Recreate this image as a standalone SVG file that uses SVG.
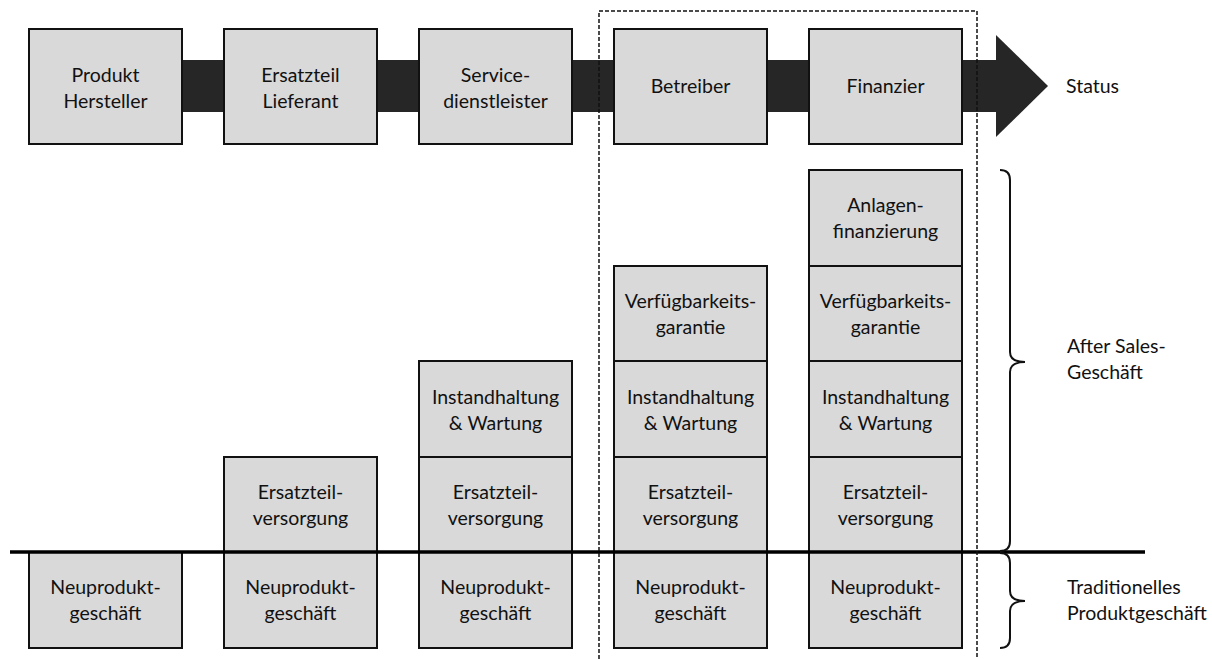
<svg xmlns="http://www.w3.org/2000/svg" width="1212" height="659" viewBox="0 0 1212 659">
<style>
.box{fill:#d9d9d9;stroke:#111;stroke-width:2}
text{font-family:Lato,"Liberation Sans",sans-serif;font-size:19.5px;fill:#111}
.c{text-anchor:middle}
.brace{fill:none;stroke:#111;stroke-width:2}
</style>
<rect width="1212" height="659" fill="#fff"/>
<g id="arrow">
<rect x="180" y="60" width="818" height="52" fill="#262626"/>
<polygon points="996,35 1048,86 996,137" fill="#262626"/>
</g>
<g id="status-label"><text x="1066" y="93">Status</text></g>
<g id="hersteller"><rect class="box" x="29" y="29" width="153" height="115"/><text class="c" x="105.5" y="82">Produkt</text><text class="c" x="105.5" y="108">Hersteller</text></g>
<g id="lieferant"><rect class="box" x="224" y="29" width="153" height="115"/><text class="c" x="300.5" y="82">Ersatzteil</text><text class="c" x="300.5" y="108">Lieferant</text></g>
<g id="dienstleister"><rect class="box" x="419" y="29" width="153" height="115"/><text class="c" x="495.5" y="82">Service-</text><text class="c" x="495.5" y="108">dienstleister</text></g>
<g id="betreiber"><rect class="box" x="614" y="29" width="153" height="115"/><text class="c" x="690.5" y="93">Betreiber</text></g>
<g id="finanzier"><rect class="box" x="809" y="29" width="153" height="115"/><text class="c" x="885.5" y="93">Finanzier</text></g>

<g id="col1-neu"><rect class="box" x="29" y="552" width="153" height="96"/><text class="c" x="105.5" y="594">Neuprodukt-</text><text class="c" x="105.5" y="620">geschäft</text></g>

<g id="col2-ersatz"><rect class="box" x="224" y="457" width="153" height="95"/><text class="c" x="300.5" y="499">Ersatzteil-</text><text class="c" x="300.5" y="525">versorgung</text></g>
<g id="col2-neu"><rect class="box" x="224" y="552" width="153" height="96"/><text class="c" x="300.5" y="594">Neuprodukt-</text><text class="c" x="300.5" y="620">geschäft</text></g>

<g id="col3-instand"><rect class="box" x="419" y="361" width="153" height="96"/><text class="c" x="495.5" y="404">Instandhaltung</text><text class="c" x="495.5" y="430">&amp; Wartung</text></g>
<g id="col3-ersatz"><rect class="box" x="419" y="457" width="153" height="95"/><text class="c" x="495.5" y="499">Ersatzteil-</text><text class="c" x="495.5" y="525">versorgung</text></g>
<g id="col3-neu"><rect class="box" x="419" y="552" width="153" height="96"/><text class="c" x="495.5" y="594">Neuprodukt-</text><text class="c" x="495.5" y="620">geschäft</text></g>

<g id="col4-verfueg"><rect class="box" x="614" y="266" width="153" height="95"/><text class="c" x="690.5" y="308">Verfügbarkeits-</text><text class="c" x="690.5" y="334">garantie</text></g>
<g id="col4-instand"><rect class="box" x="614" y="361" width="153" height="96"/><text class="c" x="690.5" y="404">Instandhaltung</text><text class="c" x="690.5" y="430">&amp; Wartung</text></g>
<g id="col4-ersatz"><rect class="box" x="614" y="457" width="153" height="95"/><text class="c" x="690.5" y="499">Ersatzteil-</text><text class="c" x="690.5" y="525">versorgung</text></g>
<g id="col4-neu"><rect class="box" x="614" y="552" width="153" height="96"/><text class="c" x="690.5" y="594">Neuprodukt-</text><text class="c" x="690.5" y="620">geschäft</text></g>

<g id="col5-anlagen"><rect class="box" x="809" y="170" width="153" height="96"/><text class="c" x="885.5" y="212">Anlagen-</text><text class="c" x="885.5" y="238">finanzierung</text></g>
<g id="col5-verfueg"><rect class="box" x="809" y="266" width="153" height="95"/><text class="c" x="885.5" y="308">Verfügbarkeits-</text><text class="c" x="885.5" y="334">garantie</text></g>
<g id="col5-instand"><rect class="box" x="809" y="361" width="153" height="96"/><text class="c" x="885.5" y="404">Instandhaltung</text><text class="c" x="885.5" y="430">&amp; Wartung</text></g>
<g id="col5-ersatz"><rect class="box" x="809" y="457" width="153" height="95"/><text class="c" x="885.5" y="499">Ersatzteil-</text><text class="c" x="885.5" y="525">versorgung</text></g>
<g id="col5-neu"><rect class="box" x="809" y="552" width="153" height="96"/><text class="c" x="885.5" y="594">Neuprodukt-</text><text class="c" x="885.5" y="620">geschäft</text></g>

<g id="connectors">
<line x1="10" y1="552" x2="1145" y2="552" stroke="#000" stroke-width="3.5"/>
<path d="M599,659 V11 H977 V659" fill="none" stroke="#111" stroke-width="1.5" stroke-dasharray="4,2"/>
<path class="brace" d="M1000,170 Q1010,170 1010,180 V352 Q1010,362 1025,362 Q1010,362 1010,372 V541 Q1010,551 1000,551"/>
<path class="brace" d="M1000,553 Q1010,553 1010,563 V591 Q1010,601 1025,601 Q1010,601 1010,611 V638 Q1010,648 1000,648"/>
</g>
<g id="after-sales-label"><text x="1067" y="353">After Sales-</text><text x="1067" y="379">Geschäft</text></g>
<g id="traditionell-label"><text x="1067" y="594">Traditionelles</text><text x="1067" y="620">Produktgeschäft</text></g>
</svg>
